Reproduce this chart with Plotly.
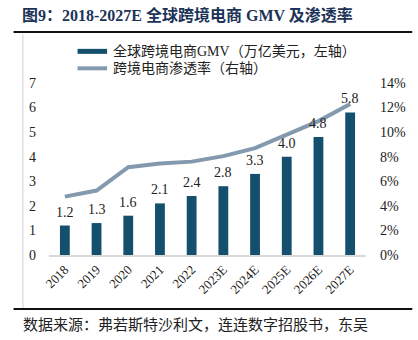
import plotly.graph_objects as go

years = ["2018", "2019", "2020", "2021", "2022", "2023E", "2024E", "2025E", "2026E", "2027E"]
gmv = [1.2, 1.3, 1.6, 2.1, 2.4, 2.8, 3.3, 4.0, 4.8, 5.8]
penetration = [4.75, 5.25, 7.15, 7.45, 7.6, 8.05, 8.7, 9.8, 10.9, 12.3]
left_ticks = [0, 1, 2, 3, 4, 5, 6, 7]
right_ticks = [0, 2, 4, 6, 8, 10, 12, 14]

title_text = "图9：2018-2027E 全球跨境电商 GMV 及渗透率"
legend_bar = "全球跨境电商GMV（万亿美元，左轴）"
legend_line = "跨境电商渗透率（右轴）"
source_text = "数据来源：弗若斯特沙利文，连连数字招股书，东吴"

W, H = 418, 340
L, R, T, B = 49, 47, 82.7, 85
PW, PH = W - L - R, H - T - B

def xp(px):
    return (px - L) / PW

def yp(py):
    return (H - B - py) / PH

SERIF = "Liberation Serif, Times New Roman, Noto Sans CJK SC, serif"
BAR_C = "#14506e"
LINE_C = "#8399ad"

xi = list(range(len(years)))

fig = go.Figure()
fig.add_trace(go.Bar(x=xi, y=gmv, marker=dict(color=BAR_C, line=dict(width=0)),
                     width=0.31, yaxis="y", showlegend=False, hoverinfo="skip"))
fig.add_trace(go.Scatter(x=xi, y=penetration, mode="lines", yaxis="y2",
                         line=dict(color=LINE_C, width=4), showlegend=False))

annotations = []
for i, v in zip(xi, gmv):
    annotations.append(dict(x=i, y=v, xref="x", yref="y", text=f"{v:.1f}", showarrow=False,
                            yanchor="bottom", yshift=4, font=dict(family=SERIF, size=14, color="#222")))

annotations += [
    dict(x=xp(20), y=yp(15), xref="paper", yref="paper", text=f"<b>{title_text}</b>",
         showarrow=False, xanchor="left", yanchor="middle",
         font=dict(family=SERIF, size=16, color="#1c3358")),
    dict(x=xp(112), y=yp(51), xref="paper", yref="paper", text=legend_bar,
         showarrow=False, xanchor="left", yanchor="middle",
         font=dict(family=SERIF, size=14, color="#222")),
    dict(x=xp(112), y=yp(68), xref="paper", yref="paper", text=legend_line,
         showarrow=False, xanchor="left", yanchor="middle",
         font=dict(family=SERIF, size=14, color="#222")),
    dict(x=xp(21), y=yp(325), xref="paper", yref="paper", text=source_text,
         showarrow=False, xanchor="left", yanchor="middle",
         font=dict(family=SERIF, size=15, color="#222")),
]

shapes = [
    dict(type="line", xref="paper", yref="paper", x0=xp(13), x1=xp(418), y0=yp(31.5), y1=yp(31.5),
         line=dict(color="#111", width=2)),
    dict(type="line", xref="paper", yref="paper", x0=xp(13), x1=xp(418), y0=yp(309), y1=yp(309),
         line=dict(color="#111", width=2)),
    dict(type="line", xref="paper", yref="paper", x0=xp(22.5), x1=xp(22.5), y0=yp(34), y1=yp(308),
         line=dict(color="#d0d0d0", width=1)),
    dict(type="rect", xref="paper", yref="paper", x0=xp(78), x1=xp(108), y0=yp(48.5), y1=yp(53.5),
         fillcolor=BAR_C, line=dict(width=0)),
    dict(type="line", xref="paper", yref="paper", x0=xp(78), x1=xp(108), y0=yp(68), y1=yp(68),
         line=dict(color=LINE_C, width=4)),
]

fig.update_layout(
    width=W, height=H,
    margin=dict(l=L, r=R, t=T, b=B, pad=0),
    paper_bgcolor="white", plot_bgcolor="white",
    xaxis=dict(range=[-0.5, len(years) - 0.5], tickvals=xi, ticktext=years,
               showgrid=False, showline=True, linecolor="#d9d9d9", linewidth=2,
               ticks="", tickangle=-45, tickfont=dict(family=SERIF, size=13, color="#222"),
               zeroline=False),
    yaxis=dict(range=[0, 7], tickvals=left_ticks, showgrid=False, zeroline=False, showline=False,
               ticks="", tickfont=dict(family=SERIF, size=14, color="#222"), ticklabelstandoff=12),
    yaxis2=dict(range=[0, 14], tickvals=right_ticks, ticktext=[f"{v}%" for v in right_ticks],
                overlaying="y", side="right", showgrid=False, zeroline=False, showline=False,
                ticks="", tickfont=dict(family=SERIF, size=14, color="#222"), ticklabelstandoff=13),
    annotations=annotations,
    shapes=shapes,
    showlegend=False,
)

fig.write_html("out.html")
